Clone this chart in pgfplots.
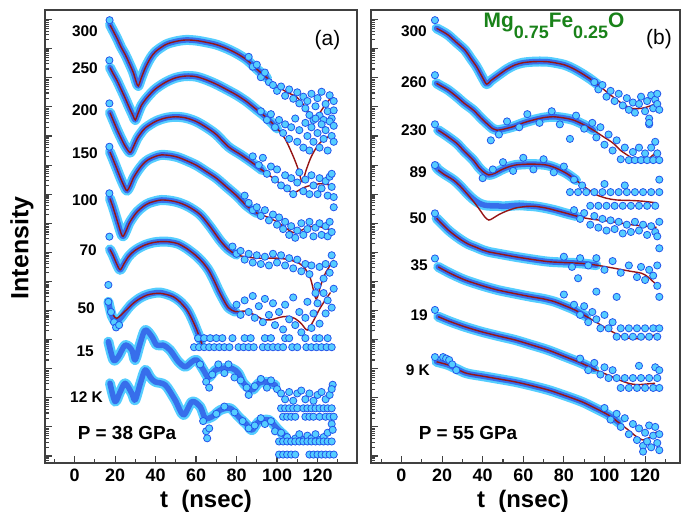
\documentclass[border=0pt]{standalone}
\usepackage{fontspec}
\setmainfont{Liberation Sans}
\usepackage{pgfplots}
\pgfplotsset{compat=1.18}
\usepackage{pgfplotstable}

\definecolor{dotfill}{RGB}{85,205,255}
\definecolor{dotedge}{RGB}{35,85,235}
\definecolor{bandblue}{RGB}{55,110,235}
\definecolor{fitred}{RGB}{150,20,20}
\definecolor{framegray}{RGB}{64,64,64}
\definecolor{titlegreen}{RGB}{25,130,25}

% minor ticks of a log axis, in decades
\def\mtl{-0.2218}
\foreach \k in {7,8,9}{\pgfmathparse{log10(\k)-1}\xdef\mtl{\mtl,\pgfmathresult}}
\foreach \n in {0,...,15}{\foreach \k in {2,...,9}{\pgfmathparse{\n+log10(\k)}\xdef\mtl{\mtl,\pgfmathresult}}}

\pgfplotsset{
  bandA/.style={no markers, smooth, tension=0.5, color=dotfill, line width=10bp, line cap=round, line join=round},
  bandB/.style={no markers, smooth, tension=0.5, color=bandblue, line width=5.5bp, line cap=round, line join=round},
  dots/.style={only marks, mark=*, mark size=3.6bp, mark options={fill=dotfill, draw=dotedge, line width=0.8bp}},
  fitc/.style={no markers, smooth, tension=0.5, color=fitred, line width=1.4bp},
  panel/.style={
    scale only axis, height=453bp,
    ymin=-0.24, ymax=15.33,
    ytick={0,...,15}, yticklabels={},
    xtick={0,20,...,120}, minor xtick={-10,10,30,50,70,90,110,130},
    tick align=inside, xtick pos=bottom, ytick pos=left,
    major tick length=7bp, minor tick length=3.5bp,
    tick style={color=framegray, line width=1.1bp},
    axis line style={color=framegray, line width=1.6bp},
    /pgf/number format/assume math mode=true,
    xticklabel style={font=\fontsize{18}{18}\selectfont\bfseries, color=black, yshift=-2bp},
  }
}
\newcommand\spec[2]{\addplot[bandA, restrict x to domain=0:#2] table[x=t,y=d]{#1};\addplot[bandB, restrict x to domain=0:#2] table[x=t,y=d]{#1};}
\newcommand\lab{\fontsize{15.5}{15.5}\selectfont\bfseries}

% ---------------- panel (a): fits ----------------
\pgfplotstableread[row sep=\\]{
t d\\
17.5 14.82\\ 19 14.62\\ 21 14.35\\ 23 14.05\\ 25 13.80\\ 27 13.50\\ 29 13.18\\ 30.5 12.85\\ 31.5 12.72\\ 33 13.00\\ 35 13.35\\ 37.5 13.68\\ 40 13.90\\ 45 14.14\\ 50 14.25\\ 55 14.30\\ 60 14.28\\ 65 14.22\\ 70 14.14\\ 75 14.01\\ 80 13.84\\ 85 13.62\\ 90 13.30\\ 95 13.00\\ 100 12.72\\ 105 12.50\\ 110 12.32\\ 115 11.89\\ 118.2 11.46\\ 122 11.89\\ 126.4 12.30\\
}\faa
\pgfplotstableread[row sep=\\]{
t d\\
17.5 13.35\\ 19 13.15\\ 21 12.90\\ 23 12.60\\ 25 12.30\\ 27 11.98\\ 29 11.68\\ 30 11.55\\ 31.5 11.80\\ 33 12.05\\ 35 12.25\\ 37.5 12.45\\ 40 12.62\\ 45 12.85\\ 50 13.00\\ 55 13.06\\ 60 13.04\\ 65 12.93\\ 70 12.78\\ 75 12.60\\ 80 12.41\\ 85 12.18\\ 90 11.90\\ 95 11.62\\ 100 11.26\\ 104 10.90\\ 108 10.30\\ 110.5 9.85\\ 112.4 9.43\\ 114.5 9.85\\ 117 10.30\\ 121 10.75\\ 127 11.05\\
}\fab
\pgfplotstableread[row sep=\\]{
t d\\
17.5 11.80\\ 19 11.55\\ 21 11.22\\ 23 10.92\\ 25 10.65\\ 27.4 10.43\\ 29 10.62\\ 31 10.92\\ 33 11.12\\ 35 11.28\\ 40 11.50\\ 45 11.62\\ 50 11.66\\ 55 11.62\\ 60 11.50\\ 65 11.30\\ 70 11.05\\ 76 10.63\\ 82 10.36\\ 87 10.12\\ 92.6 9.83\\ 100 9.45\\ 104 9.22\\ 107.5 9.05\\ 110 9.10\\ 113 9.22\\ 117 9.31\\ 122 9.36\\ 127 9.30\\
}\fac
\pgfplotstableread[row sep=\\]{
t d\\
17.5 10.45\\ 19 10.20\\ 21 9.85\\ 23 9.50\\ 25 9.20\\ 26 9.12\\ 27.5 9.30\\ 29 9.55\\ 31.5 9.83\\ 34 10.05\\ 36.5 10.19\\ 40 10.30\\ 43 10.35\\ 47 10.33\\ 51 10.27\\ 55 10.16\\ 60 10.00\\ 65 9.78\\ 70 9.55\\ 75 9.25\\ 80 8.95\\ 85 8.60\\ 90 8.35\\ 95 8.22\\ 100 8.05\\ 104 7.85\\ 108 7.68\\ 111 7.72\\ 115 7.86\\ 120 7.90\\ 124 7.82\\ 127.3 7.77\\
}\fad
\pgfplotstableread[row sep=\\]{
t d\\
17.5 8.85\\ 19 8.55\\ 21 8.10\\ 23 7.65\\ 24 7.55\\ 25.5 7.75\\ 27 8.00\\ 29 8.22\\ 31 8.40\\ 34 8.58\\ 37 8.70\\ 43 8.80\\ 50 8.74\\ 56 8.58\\ 62 8.30\\ 67 7.88\\ 72 7.40\\ 76 7.10\\ 80 6.92\\ 85 6.84\\ 90 6.80\\ 95 6.80\\ 100 6.80\\ 105 6.76\\ 109 6.68\\ 113 6.52\\ 116.5 6.10\\ 119.3 5.40\\ 121.5 5.85\\ 124 6.30\\ 128 6.74\\
}\fae
\pgfplotstableread[row sep=\\]{
t d\\
17.5 7.10\\ 19 6.90\\ 20.5 6.65\\ 22.5 6.40\\ 24.5 6.62\\ 26.6 6.85\\ 29 7.02\\ 31.5 7.14\\ 35 7.26\\ 39 7.34\\ 43 7.37\\ 47 7.36\\ 51 7.30\\ 55 7.15\\ 59.6 6.91\\ 63 6.68\\ 66.2 6.39\\ 69 6.02\\ 71.1 5.70\\ 73.5 5.38\\ 76 5.10\\ 79.4 4.96\\ 84 4.98\\ 89 4.85\\ 93 4.70\\ 97 4.68\\ 101 4.76\\ 105 4.80\\ 109 4.72\\ 112 4.55\\ 115 4.33\\ 118 4.65\\ 121 5.05\\ 124 5.38\\ 126.4 5.62\\
}\faf
\pgfplotstableread[row sep=\\]{
t d\\
17.5 5.08\\ 19 4.85\\ 20.8 4.73\\ 23 4.85\\ 26 5.05\\ 29 5.25\\ 32 5.40\\ 35.7 5.53\\ 39 5.58\\ 42.3 5.59\\ 45.5 5.55\\ 48.9 5.47\\ 52 5.30\\ 55.5 5.02\\ 58 4.70\\ 60.4 4.33\\ 62 4.02\\ 63.7 3.70\\
}\fag
% bands of panel (a) that do not follow a fit
\pgfplotstableread[row sep=\\]{
t d\\
16.7 5.30\\ 18.5 4.80\\ 20.5 4.60\\ 22.5 4.72\\ 25 4.95\\ 28 5.20\\ 32 5.42\\ 36 5.55\\ 42 5.62\\ 48 5.50\\ 52 5.32\\ 55.5 5.05\\ 58 4.72\\ 60.5 4.30\\ 62.5 3.95\\
}\bag
\pgfplotstableread[row sep=\\]{
t d\\
16.7 3.93\\ 19.2 3.30\\ 21.6 3.41\\ 25 3.81\\ 28.3 3.64\\ 29.9 3.30\\ 32.4 3.87\\ 34.9 4.33\\ 38.2 4.10\\ 40.6 3.81\\ 43.9 3.81\\ 47.2 3.64\\ 51.3 3.24\\ 54.7 3.07\\ 58 3.24\\ 60.4 3.30\\ 63.7 2.95\\ 66.2 2.70\\ 69.5 2.95\\ 72.5 3.01\\ 77.8 3.01\\ 81 2.84\\ 83.5 2.50\\ 87.7 2.27\\ 90.9 2.50\\ 94.3 2.55\\ 99.2 2.44\\
}\bah
\pgfplotstableread[row sep=\\]{
t d\\
17.5 2.50\\ 20 1.87\\ 22.5 2.20\\ 25 2.50\\ 28.3 2.15\\ 29.9 1.92\\ 32.5 2.50\\ 34.9 2.96\\ 37.5 2.70\\ 39.8 2.55\\ 44.8 2.44\\ 49.7 1.92\\ 53.8 1.41\\ 58 1.87\\ 62.1 1.69\\ 64.5 1.30\\ 67.9 1.35\\ 72 1.58\\ 76.9 1.64\\ 81 1.35\\ 85.2 1.07\\ 87.7 0.89\\ 90.9 1.18\\ 95.9 1.24\\ 100 0.95\\ 104.2 0.66\\
}\bai
% scattered points of panel (a)
\pgfplotstableread[row sep=\\]{
t d\\
17.3 14.98\\ 86 13.72\\ 88 13.38\\ 90 13.45\\ 92 13.02\\ 94 13.18\\ 96 12.85\\ 98 12.75\\ 100 12.55\\ 102 12.70\\ 104 12.38\\ 106 12.60\\ 108 12.28\\ 110 12.50\\ 111 12.12\\ 113 12.35\\ 114 11.95\\ 115 12.20\\ 116 11.72\\ 117 12.45\\ 118 11.55\\ 119 12.02\\ 120 12.30\\ 121 11.70\\ 122 12.52\\ 123 11.55\\ 124 12.10\\ 125 11.85\\ 126 12.40\\ 127 11.60\\ 128 12.20\\ 128 11.88\\
17.2 13.60\\ 92 11.85\\ 95 11.55\\ 97 11.75\\ 99 11.30\\ 101 11.55\\ 103 11.10\\ 104 11.40\\ 106 10.90\\ 107 11.30\\ 109 11.60\\ 110 10.80\\ 111 11.20\\ 113 10.60\\ 114 11.45\\ 115 11.00\\ 116 10.50\\ 117 11.30\\ 118 10.80\\ 119 11.60\\ 120 11.10\\ 121 10.60\\ 122 11.40\\ 123 10.90\\ 124 11.20\\ 125 10.50\\ 126 11.50\\ 127 11.00\\ 128 10.80\\ 128 11.35\\
17.2 12.12\\ 88 10.30\\ 91 10.00\\ 93 10.25\\ 95 9.70\\ 97 9.95\\ 99 9.50\\ 100 9.85\\ 102 9.30\\ 104 9.65\\ 105 9.20\\ 107 9.55\\ 108 9.00\\ 110 9.40\\ 111 9.75\\ 113 9.10\\ 114 9.50\\ 116 9.00\\ 117 9.65\\ 118 9.30\\ 120 9.00\\ 121 9.55\\ 122 9.20\\ 124 9.45\\ 125 8.95\\ 126 9.60\\ 127 9.25\\ 128 8.90\\ 127 9.70\\
17.2 10.63\\ 84 8.95\\ 86 8.70\\ 88 8.45\\ 90 8.55\\ 92 8.25\\ 94 8.45\\ 96 8.10\\ 98 8.30\\ 100 7.95\\ 101 8.20\\ 103 7.80\\ 104 8.05\\ 106 7.60\\ 107 7.90\\ 109 7.50\\ 110 7.75\\ 112 8.00\\ 113 7.60\\ 115 7.80\\ 116 8.05\\ 118 7.55\\ 119 7.85\\ 121 8.00\\ 122 7.60\\ 124 7.90\\ 125 7.55\\ 126 8.05\\ 127 7.70\\ 128 8.55\\
17.2 9.03\\ 78 7.20\\ 80 6.95\\ 82 7.05\\ 84 6.75\\ 86 6.95\\ 88 6.65\\ 90 6.90\\ 92 6.60\\ 94 6.85\\ 96 6.55\\ 98 6.95\\ 100 6.65\\ 102 6.90\\ 104 6.55\\ 106 6.80\\ 108 6.45\\ 110 6.75\\ 112 6.35\\ 114 6.60\\ 116 6.25\\ 117 6.55\\ 119 5.60\\ 120 5.85\\ 121 6.50\\ 123 6.10\\ 124 6.60\\ 126 6.30\\ 127 6.90\\ 128 6.60\\
17.2 7.54\\ 80 5.20\\ 82 4.85\\ 84 5.35\\ 86 4.95\\ 88 5.50\\ 89 4.75\\ 91 5.15\\ 93 4.60\\ 94 5.40\\ 96 4.85\\ 98 5.25\\ 99 4.50\\ 101 4.95\\ 103 4.35\\ 104 5.20\\ 106 4.70\\ 108 5.45\\ 109 4.50\\ 111 4.95\\ 112 4.25\\ 114 4.75\\ 115 5.30\\ 117 4.40\\ 118 4.90\\ 120 5.25\\ 121 4.55\\ 123 5.60\\ 124 4.90\\ 125 5.35\\ 127 5.10\\ 128 5.75\\
16.7 5.88\\ 16.7 5.30\\ 18 4.95\\ 19.5 4.60\\ 20.5 4.42\\ 22 4.50\\
59 3.74\\ 61.5 3.74\\ 64 3.74\\ 66.5 3.74\\ 69 3.74\\ 71.5 3.74\\ 74 3.74\\ 76.5 3.74\\ 81 3.74\\ 83.5 3.74\\ 86 3.74\\ 88.5 3.74\\ 93 3.74\\ 95.5 3.74\\ 98 3.74\\ 100.5 3.74\\ 103 3.74\\ 107.5 3.74\\ 110 3.74\\ 114.5 3.74\\ 117 3.74\\ 119.5 3.74\\ 122 3.74\\ 124.5 3.74\\ 127 3.74\\
61 4.05\\ 64 4.05\\ 67 4.05\\ 70 4.05\\ 73 4.05\\ 78 4.05\\ 84 4.05\\ 87 4.05\\ 94 4.05\\ 97 4.05\\ 104 4.05\\ 106 4.05\\ 114 4.05\\ 119 4.05\\ 121 4.05\\ 125 4.05\\
62 3.15\\ 65 2.55\\ 66.5 2.35\\ 68 2.80\\ 71 3.15\\ 74 2.85\\ 76 3.15\\ 79 2.70\\ 82 2.60\\ 85 2.35\\ 86 2.10\\ 89 2.40\\ 92 2.65\\ 95 2.35\\ 97 2.60\\ 100 2.30\\ 102 2.15\\ 104 1.95\\ 106 2.20\\ 108 1.90\\ 110 2.15\\ 112 2.25\\ 114 1.95\\ 116 2.15\\ 118 1.90\\ 120 2.10\\ 122 2.20\\ 124 1.95\\ 126 2.10\\ 127.5 2.45\\ 127 2.30\\
102 1.64\\ 104 1.64\\ 106 1.64\\ 108 1.64\\ 110 1.64\\ 113 1.64\\ 115 1.64\\ 117 1.64\\ 119 1.64\\ 121 1.64\\ 123 1.64\\ 125 1.64\\ 127 1.64\\
103 1.35\\ 105 1.35\\ 107 1.35\\ 109 1.35\\ 114 1.35\\ 116 1.35\\ 118 1.35\\ 121 1.35\\ 124 1.35\\ 126 1.35\\ 128 1.35\\
63.5 1.20\\ 65 0.85\\ 65.5 0.61\\ 66.5 0.95\\ 70 1.45\\ 74 1.70\\ 79 1.50\\ 83 1.20\\ 86 0.95\\ 89 1.05\\ 92 1.30\\ 94 1.10\\ 97 1.20\\ 99 0.85\\ 102 0.80\\ 105 0.65\\ 107 0.50\\ 109 0.60\\ 111 0.75\\ 113 0.55\\ 115 0.70\\ 117 0.60\\ 119 0.75\\ 121 0.55\\ 123 0.65\\ 125 0.80\\ 127 1.10\\ 127.5 0.90\\
101 0.50\\ 103 0.50\\ 105 0.50\\ 107 0.50\\ 109 0.50\\ 111 0.50\\ 113 0.50\\ 115 0.50\\ 117 0.50\\ 119 0.50\\ 121 0.50\\ 123 0.50\\ 125 0.50\\ 127 0.50\\
101 0.05\\ 103 0.05\\ 105 0.05\\ 107 0.05\\ 109 0.05\\ 116 0.05\\ 118 0.05\\ 120 0.05\\ 122 0.05\\ 124 0.05\\ 126 0.05\\ 128 0.05\\
}\saa

% ---------------- panel (b) ----------------
\pgfplotstableread[row sep=\\]{
t d\\
17.3 14.70\\ 20 14.60\\ 23 14.47\\ 27 14.22\\ 31.3 13.95\\ 34 13.68\\ 37 13.38\\ 40 13.00\\ 42 12.78\\ 44 12.90\\ 47.7 13.09\\ 52 13.30\\ 55.9 13.44\\ 60 13.52\\ 64.1 13.55\\ 68 13.56\\ 72.3 13.55\\ 76 13.51\\ 80.5 13.44\\ 84.5 13.32\\ 88.8 13.15\\ 93 12.96\\ 97 12.75\\ 101 12.52\\ 105.2 12.29\\ 109 12.10\\ 113.4 11.95\\ 118.3 11.95\\ 122 12.02\\ 125.7 12.12\\
}\fba
\pgfplotstableread[row sep=\\]{
t d\\
17.3 12.81\\ 20 12.70\\ 23 12.58\\ 27.2 12.35\\ 31 12.12\\ 35.4 11.89\\ 39 11.63\\ 42 11.43\\ 45 11.25\\ 47 11.20\\ 50 11.23\\ 55 11.32\\ 60 11.45\\ 64.9 11.55\\ 70 11.63\\ 74.8 11.66\\ 80 11.62\\ 84.6 11.55\\ 90 11.38\\ 94.5 11.20\\ 100 10.95\\ 104.3 10.75\\ 108 10.50\\ 112.6 10.28\\ 115.9 10.11\\ 118.5 10.12\\ 120.8 10.17\\ 124 10.35\\ 126.5 10.52\\
}\fbb
\pgfplotstableread[row sep=\\]{
t d\\
18.1 11.20\\ 22 11.02\\ 27.2 10.75\\ 31 10.47\\ 35.4 10.17\\ 38 9.93\\ 40.3 9.77\\ 43 9.66\\ 46 9.72\\ 49 9.83\\ 52 9.92\\ 56 10.00\\ 61.7 10.03\\ 66 10.03\\ 71.5 10.00\\ 76 9.90\\ 81.4 9.71\\ 86 9.48\\ 91.2 9.20\\ 96 8.98\\ 101 8.86\\ 106 8.80\\ 114.2 8.78\\ 120 8.75\\ 125.7 8.70\\
}\fbc
\pgfplotstableread[row sep=\\]{
t d\\
18.1 9.83\\ 21 9.68\\ 25.5 9.49\\ 29 9.27\\ 32.1 9.03\\ 35.5 8.75\\ 38.7 8.45\\ 41 8.22\\ 43 8.11\\ 45 8.17\\ 48 8.30\\ 51.8 8.42\\ 56 8.52\\ 61.7 8.58\\ 66 8.58\\ 71.5 8.52\\ 76 8.44\\ 81.4 8.34\\ 86 8.25\\ 91.2 8.17\\ 96 8.12\\ 101.1 8.08\\ 107 8.02\\ 114.2 7.94\\ 120 7.90\\ 125.7 7.86\\
}\fbd
\pgfplotstableread[row sep=\\]{
t d\\
17.3 8.17\\ 20 7.98\\ 23 7.77\\ 26 7.60\\ 29.6 7.42\\ 33 7.28\\ 36.2 7.19\\ 40 7.08\\ 42.7 7.02\\ 48 6.95\\ 55.9 6.85\\ 64 6.76\\ 72.3 6.68\\ 80 6.65\\ 88.7 6.62\\ 96 6.56\\ 105.1 6.45\\ 112 6.36\\ 118.3 6.28\\ 121.5 6.15\\ 124.9 5.93\\
}\fbe
\pgfplotstableread[row sep=\\]{
t d\\
18.1 6.50\\ 24 6.28\\ 31.3 6.05\\ 40 5.85\\ 47.7 5.70\\ 56 5.58\\ 64.1 5.47\\ 70 5.40\\ 75.6 5.30\\ 80 5.18\\ 85.4 5.02\\ 91 4.80\\ 96.9 4.56\\ 101 4.38\\ 105.2 4.22\\ 108 4.12\\ 111.8 4.05\\ 115 4.03\\ 118.3 4.05\\ 121.5 4.10\\ 124.9 4.16\\
}\fbf
\pgfplotstableread[row sep=\\]{
t d\\
18.1 4.79\\ 24 4.62\\ 31.3 4.44\\ 40 4.26\\ 48 4.12\\ 55.9 3.99\\ 64 3.82\\ 72.3 3.64\\ 80 3.43\\ 88.7 3.19\\ 95 2.98\\ 101.9 2.78\\ 107 2.62\\ 111.8 2.50\\ 115 2.46\\ 118.3 2.46\\ 121.5 2.48\\ 124.9 2.50\\
}\fbg
\pgfplotstableread[row sep=\\]{
t d\\
17.3 3.24\\ 20 3.19\\ 23 3.13\\ 27 3.00\\ 31.3 2.86\\ 35 2.80\\ 39.5 2.75\\ 47 2.66\\ 55.9 2.55\\ 64 2.42\\ 72.3 2.27\\ 80 2.09\\ 88.7 1.87\\ 95 1.66\\ 101.9 1.41\\ 107 1.15\\ 111.8 0.89\\ 115.5 0.68\\ 119.1 0.55\\ 122.5 0.65\\ 125.7 0.83\\
}\fbh
\pgfplotstableread[row sep=\\]{
t d\\
17 9.95\\ 18.1 9.85\\ 21 9.70\\ 25.5 9.50\\ 29 9.28\\ 32 9.05\\ 35 8.85\\ 38 8.70\\ 41 8.62\\ 44 8.60\\ 47 8.60\\ 50 8.58\\ 54 8.60\\ 58 8.62\\ 62 8.60\\ 66 8.58\\ 71 8.52\\ 76 8.44\\ 81 8.34\\ 86 8.25\\
}\bbd
\pgfplotstableread[row sep=\\]{
t d\\
16.5 14.98\\ 95 12.85\\ 97 12.60\\ 99 12.75\\ 101 12.35\\ 103 12.55\\ 105 12.20\\ 107 12.45\\ 109 12.05\\ 111 12.30\\ 112 11.90\\ 114 12.15\\ 115 11.80\\ 117 12.10\\ 118 12.35\\ 120 11.85\\ 121 12.20\\ 122 11.60\\ 123 12.40\\ 124 11.95\\ 125 12.25\\ 126 12.10\\ 127 11.90\\ 126 12.45\\ 122 11.40\\
16.5 13.09\\ 44 10.85\\ 48 11.05\\ 52 11.50\\ 58 11.30\\ 62 11.75\\ 68 11.45\\ 74 11.85\\ 78 11.40\\ 83 10.90\\ 86 11.70\\ 90 11.25\\ 94 11.45\\ 96 10.95\\ 98 11.30\\ 100 10.70\\ 102 11.05\\ 104 10.50\\ 106 10.85\\ 108 10.20\\ 110 10.60\\ 112 10.17\\ 114 10.45\\ 115 10.17\\ 117 10.60\\ 118 10.17\\ 120 10.40\\ 121 10.17\\ 122 11.45\\ 123 10.60\\ 124 10.17\\ 125 10.80\\ 126 10.40\\ 127 10.17\\
16.5 11.40\\ 40 9.55\\ 45 9.85\\ 50 10.10\\ 55 9.80\\ 60 10.25\\ 65 9.85\\ 70 10.20\\ 75 9.75\\ 80 9.95\\ 83 9.07\\ 85 9.50\\ 87 9.07\\ 89 9.30\\ 91 9.07\\ 93 8.60\\ 95 9.07\\ 97 8.60\\ 99 9.07\\ 101 8.60\\ 103 9.07\\ 105 8.60\\ 107 9.07\\ 109 8.60\\ 111 9.07\\ 113 8.60\\ 115 9.07\\ 117 8.60\\ 119 9.07\\ 121 8.60\\ 123 9.07\\ 125 8.60\\ 127 9.07\\ 127 9.50\\ 110 9.30\\ 100 9.35\\
16.5 10.00\\ 85 8.45\\ 88 8.15\\ 90 8.35\\ 93 7.95\\ 95 8.25\\ 97 7.85\\ 99 8.15\\ 101 7.75\\ 103 8.10\\ 105 7.80\\ 107 8.05\\ 109 7.65\\ 111 7.95\\ 113 7.70\\ 115 8.05\\ 117 7.75\\ 119 7.95\\ 121 7.60\\ 123 7.90\\ 125 7.70\\ 127 8.05\\ 126 7.55\\
16.5 8.34\\ 80 6.85\\ 84 6.50\\ 88 6.80\\ 87 6.11\\ 92 6.55\\ 96 6.80\\ 100 6.40\\ 104 6.70\\ 108 6.30\\ 112 6.55\\ 116 6.15\\ 118 6.50\\ 120 6.05\\ 122 6.40\\ 124 6.20\\ 126 5.85\\ 127 7.14\\ 126 6.55\\
16.5 6.79\\ 85 5.20\\ 88 4.85\\ 90 5.15\\ 92 4.60\\ 94 4.95\\ 96 4.70\\ 98 4.39\\ 100 4.85\\ 102 4.39\\ 104 4.60\\ 106 4.10\\ 108 4.39\\ 110 4.10\\ 112 4.39\\ 114 4.10\\ 116 4.39\\ 118 4.10\\ 120 4.39\\ 122 4.10\\ 124 4.39\\ 126 4.10\\ 127 4.39\\ 106 5.47\\ 127 5.47\\ 96 5.65\\ 80 5.55\\
16.5 5.02\\ 88 3.35\\ 92 2.95\\ 95 3.20\\ 98 2.80\\ 100 3.05\\ 102 2.68\\ 104 2.95\\ 106 2.68\\ 108 2.34\\ 110 2.68\\ 112 2.34\\ 114 2.68\\ 116 2.34\\ 118 2.68\\ 120 2.34\\ 122 2.68\\ 124 2.34\\ 126 2.68\\ 127 2.34\\ 117 3.10\\ 125 3.05\\ 127 2.95\\
16.5 3.40\\ 20.5 3.40\\ 22 3.35\\ 23.5 3.30\\ 25 3.15\\ 27 2.95\\ 100 1.65\\ 103 1.25\\ 106 1.45\\ 108 1.00\\ 110 1.30\\ 112 0.75\\ 114 1.10\\ 116 0.55\\ 117 0.95\\ 119 0.35\\ 120 0.80\\ 121 0.50\\ 122 1.05\\ 123 0.30\\ 124 0.70\\ 125 1.00\\ 126 0.45\\ 127 0.75\\ 127 0.20\\ 119 0.15\\
}\sba

\begin{document}
\begin{tikzpicture}
\useasboundingbox (0,0) rectangle (681bp,515bp);
% ---------- panel (a) ----------
\begin{axis}[panel, at={(45bp,52bp)}, anchor=south west, width=312bp,
  xmin=-14.6, xmax=139.5, minor ytick/.expanded=\mtl]
\spec{\faa}{96}
\spec{\fab}{100}
\spec{\fac}{95}
\spec{\fad}{90}
\spec{\fae}{84}
\spec{\faf}{80}
\spec{\bag}{200}
\spec{\bah}{200}
\spec{\bai}{200}
\addplot[dots] table[x=t,y=d]{\saa};
\addplot[fitc] table[x=t,y=d]{\faa};
\addplot[fitc] table[x=t,y=d]{\fab};
\addplot[fitc] table[x=t,y=d]{\fac};
\addplot[fitc] table[x=t,y=d]{\fad};
\addplot[fitc] table[x=t,y=d]{\fae};
\addplot[fitc] table[x=t,y=d]{\faf};
\addplot[fitc] table[x=t,y=d]{\fag};
\end{axis}
% ---------- panel (b) ----------
\begin{axis}[panel, at={(371bp,52bp)}, anchor=south west, width=309bp,
  xmin=-15, xmax=137.2, minor ytick/.expanded=\mtl]
\spec{\fba}{100}
\spec{\fbb}{96}
\spec{\fbc}{86}
\spec{\bbd}{200}
\spec{\fbe}{100}
\spec{\fbf}{96}
\spec{\fbg}{100}
\spec{\fbh}{108}
\addplot[dots] table[x=t,y=d]{\sba};
\addplot[fitc] table[x=t,y=d]{\fba};
\addplot[fitc] table[x=t,y=d]{\fbb};
\addplot[fitc] table[x=t,y=d]{\fbc};
\addplot[fitc] table[x=t,y=d]{\fbd};
\addplot[fitc] table[x=t,y=d]{\fbe};
\addplot[fitc] table[x=t,y=d]{\fbf};
\addplot[fitc] table[x=t,y=d]{\fbg};
\addplot[fitc] table[x=t,y=d]{\fbh};
\end{axis}
% ---------- texts ----------
\begin{scope}[every node/.style={inner sep=0pt, anchor=east}]
\node at (98bp,483.3bp) {\lab 300};
\node at (98bp,446.7bp) {\lab 250};
\node at (98bp,405bp) {\lab 200};
\node at (98bp,361.7bp) {\lab 150};
\node at (98bp,315bp) {\lab 100};
\node at (97bp,265bp) {\lab 70};
\node at (95bp,206.7bp) {\lab 50};
\node at (94bp,163.3bp) {\lab 15};
\node at (103bp,118.3bp) {\lab 12 K};
\node at (427bp,483.3bp) {\lab 300};
\node at (427bp,433bp) {\lab 260};
\node at (427bp,385bp) {\lab 230};
\node at (427bp,343.3bp) {\lab 89};
\node at (427bp,296.7bp) {\lab 50};
\node at (428bp,250bp) {\lab 35};
\node at (428bp,200bp) {\lab 19};
\node at (430bp,145bp) {\lab 9 K};
\end{scope}
\node[inner sep=0pt] at (327.5bp,475bp) {\fontsize{21}{21}\selectfont (a)};
\node[inner sep=0pt] at (659bp,476bp) {\fontsize{21}{21}\selectfont (b)};
\node[inner sep=0pt, anchor=base, text=titlegreen] at (554bp,487bp)
  {\fontsize{21}{21}\selectfont\bfseries Mg\raisebox{-11bp}{\fontsize{18}{18}\selectfont 0.75}Fe\raisebox{-11bp}{\fontsize{18}{18}\selectfont 0.25}O};
\node[inner sep=0pt] at (127bp,82bp) {\fontsize{19}{19}\selectfont\bfseries P = 38 GPa};
\node[inner sep=0pt] at (468bp,82.5bp) {\fontsize{19}{19}\selectfont\bfseries P = 55 GPa};
\node[inner sep=0pt, rotate=90] at (22bp,267bp) {\fontsize{25}{25}\selectfont\bfseries Intensity};
\node[inner sep=0pt, anchor=base] at (206bp,8bp) {\fontsize{24}{24}\selectfont\bfseries t\ \ (nsec)};
\node[inner sep=0pt, anchor=base] at (523bp,8bp) {\fontsize{24}{24}\selectfont\bfseries t\ \ (nsec)};
\end{tikzpicture}
\end{document}
